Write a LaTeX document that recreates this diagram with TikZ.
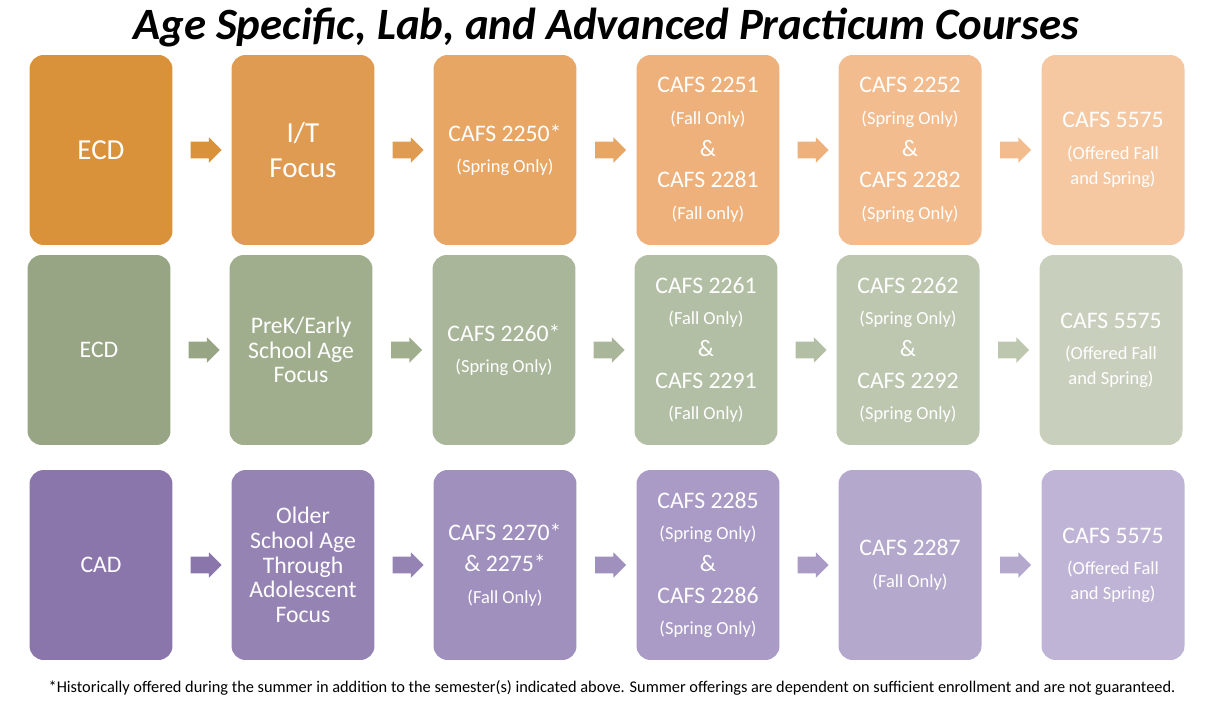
\documentclass[tikz,border=0pt]{standalone}
\usepackage{fontspec}
\setmainfont{Carlito}
\usetikzlibrary{shapes.arrows}
\definecolor{oA}{HTML}{D9913A}\definecolor{oB}{HTML}{E09B52}\definecolor{oC}{HTML}{E8A665}
\definecolor{oD}{HTML}{EEB17B}\definecolor{oE}{HTML}{F2BC8E}\definecolor{oF}{HTML}{F5C8A2}
\definecolor{gA}{HTML}{97A585}\definecolor{gB}{HTML}{A0AE8E}\definecolor{gC}{HTML}{A9B699}
\definecolor{gD}{HTML}{B3BFA5}\definecolor{gE}{HTML}{BDC7B0}\definecolor{gF}{HTML}{C8D0BD}
\definecolor{pA}{HTML}{8A76AB}\definecolor{pB}{HTML}{9583B4}\definecolor{pC}{HTML}{A090BD}
\definecolor{pD}{HTML}{A99BC5}\definecolor{pE}{HTML}{B4A8CD}\definecolor{pF}{HTML}{C0B4D6}
\newcommand{\sm}[1]{{\fontsize{10.5}{13}\selectfont #1}}
\tikzset{
  course/.style={rounded corners=8pt, minimum width=2.86cm, minimum height=3.8cm,
    text=white, align=center, font=\fontsize{13.5}{18}\selectfont, inner sep=1pt},
  stepto/.style={single arrow, single arrow head extend=2.5pt, minimum height=0.62cm,
    inner xsep=0pt, inner ysep=4.5pt, anchor=center}
}
\begin{document}
\begin{tikzpicture}[x=0.02cm,y=-0.02cm]
\useasboundingbox (0,0) rectangle (1213,702);
\node[font=\fontsize{25.5}{28}\selectfont\bfseries\itshape] (title) at (606,28) {Age Specific, Lab, and Advanced Practicum Courses};
% row 1
\node[course,fill=oA,font=\fontsize{16.5}{20}\selectfont] (a1) at (101,150) {ECD};
\node[course,fill=oB,font=\fontsize{16.5}{20}\selectfont] (a2) at (303,150) {I/T\\Focus};
\node[course,fill=oC] (a3) at (505,150) {CAFS 2250*\\\sm{(Spring Only)}};
\node[course,fill=oD] (a4) at (708,150) {CAFS 2251\\\sm{(Fall Only)}\\\&\\CAFS 2281\\\sm{(Fall only)}};
\node[course,fill=oE] (a5) at (910,150) {CAFS 2252\\\sm{(Spring Only)}\\\&\\CAFS 2282\\\sm{(Spring Only)}};
\node[course,fill=oF] (a6) at (1113,150) {CAFS 5575\\\sm{(Offered Fall}\\[-4pt]\sm{and Spring)}};
% row 2
\node[course,fill=gA] (b1) at (99,350) {ECD};
\node[course,fill=gB] (b2) at (301,350) {PreK/Early\\[-4pt]School Age\\[-4pt]Focus};
\node[course,fill=gC] (b3) at (504,350) {CAFS 2260*\\\sm{(Spring Only)}};
\node[course,fill=gD] (b4) at (706,350) {CAFS 2261\\\sm{(Fall Only)}\\\&\\CAFS 2291\\\sm{(Fall Only)}};
\node[course,fill=gE] (b5) at (908,350) {CAFS 2262\\\sm{(Spring Only)}\\\&\\CAFS 2292\\\sm{(Spring Only)}};
\node[course,fill=gF] (b6) at (1111,350) {CAFS 5575\\\sm{(Offered Fall}\\[-4pt]\sm{and Spring)}};
% row 3
\node[course,fill=pA] (c1) at (101,565) {CAD};
\node[course,fill=pB] (c2) at (303,565) {Older\\[-4pt]School Age\\[-4pt]Through\\[-4pt]Adolescent\\[-4pt]Focus};
\node[course,fill=pC] (c3) at (505,565) {CAFS 2270*\\\& 2275*\\\sm{(Fall Only)}};
\node[course,fill=pD] (c4) at (708,565) {CAFS 2285\\\sm{(Spring Only)}\\\&\\CAFS 2286\\\sm{(Spring Only)}};
\node[course,fill=pE] (c5) at (910,565) {CAFS 2287\\\sm{(Fall Only)}};
\node[course,fill=pF] (c6) at (1113,565) {CAFS 5575\\\sm{(Offered Fall}\\[-4pt]\sm{and Spring)}};
% arrows
\foreach \r/\c in {a/o,b/g,c/p}{
  \foreach \i/\j/\k in {1/2/A,2/3/B,3/4/C,4/5/D,5/6/E}{
    \path (\r\i.east) -- (\r\j.west) node[midway,stepto,fill=\c\k] (\r\i\j) {};
  }
}
\node[font=\fontsize{9.3}{11}\selectfont] (note) at (612,688) {*Historically offered during the summer in addition to the semester(s) indicated above. Summer offerings are dependent on sufficient enrollment and are not guaranteed.};
\end{tikzpicture}
\end{document}
